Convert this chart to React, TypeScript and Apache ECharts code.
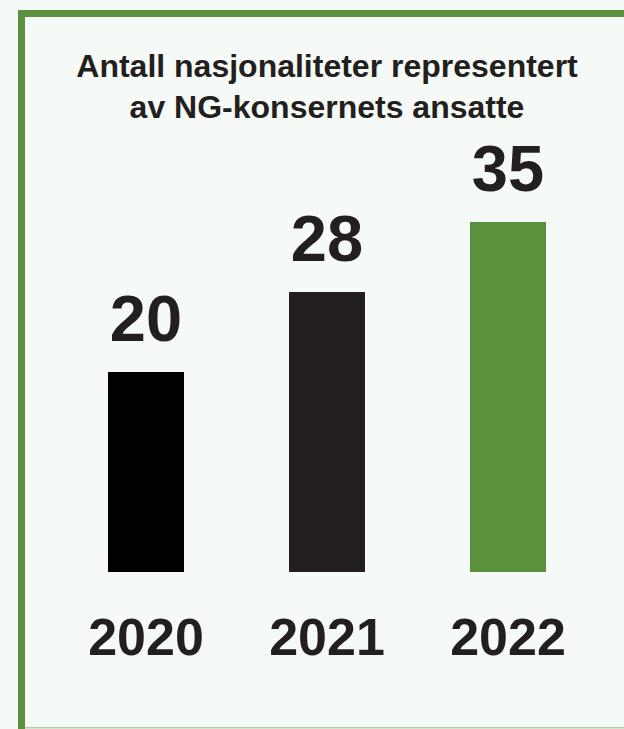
import React, { useEffect, useRef } from "react";
import * as echarts from "echarts";

const categories = ["2020", "2021", "2022"];
const values = [20, 28, 35];
const barColors = ["#000000", "#231f20", "#5a913c"];
const titleText = "Antall nasjonaliteter representert\nav NG-konsernets ansatte";

export default function App() {
  const ref = useRef<HTMLDivElement>(null);
  useEffect(() => {
    if (!ref.current) return;
    const chart = echarts.init(ref.current, undefined, { renderer: "svg" });
    const font = "'Liberation Sans', Arial, Helvetica, sans-serif";
    chart.setOption({
      animation: false,
      backgroundColor: "#f5faf6",
      textStyle: { fontFamily: font },
      grid: { left: 55.5, right: 25.5, top: 172, bottom: 157 },
      xAxis: {
        type: "category",
        data: categories,
        axisLine: { show: false },
        axisTick: { show: false },
        axisLabel: {
          fontSize: 52,
          fontWeight: "bold",
          color: "#231f20",
          margin: 39,
          fontFamily: font,
        },
      },
      yAxis: {
        type: "value",
        min: 0,
        max: 40,
        show: false,
        splitLine: { show: false },
      },
      series: [
        {
          type: "bar",
          barWidth: 76,
          data: values.map((v, i) => ({ value: v, itemStyle: { color: barColors[i] } })),
          label: {
            show: true,
            position: "top",
            distance: 21,
            fontSize: 65,
            fontWeight: "bold",
            color: "#231f20",
            fontFamily: font,
          },
        },
      ],
      graphic: [
        { type: "rect", shape: { x: 18, y: 10, width: 7, height: 719 }, style: { fill: "#5a913c" } },
        { type: "rect", shape: { x: 18, y: 10, width: 606, height: 7 }, style: { fill: "#5a913c" } },
        { type: "rect", shape: { x: 25, y: 727, width: 599, height: 1.5 }, style: { fill: "#b3cfa6" } },
        {
          type: "text",
          x: 327,
          y: 45,
          style: {
            text: titleText,
            fill: "#231f20",
            font: `bold 32px ${font}`,
            textAlign: "center",
            textVerticalAlign: "top",
            lineHeight: 41,
          },
        },
      ],
    });
    return () => chart.dispose();
  }, []);
  return (
    <div style={{ position: "fixed", left: 0, top: 0, width: 624, height: 729 }}>
      <div ref={ref} style={{ width: 624, height: 729 }} />
    </div>
  );
}
